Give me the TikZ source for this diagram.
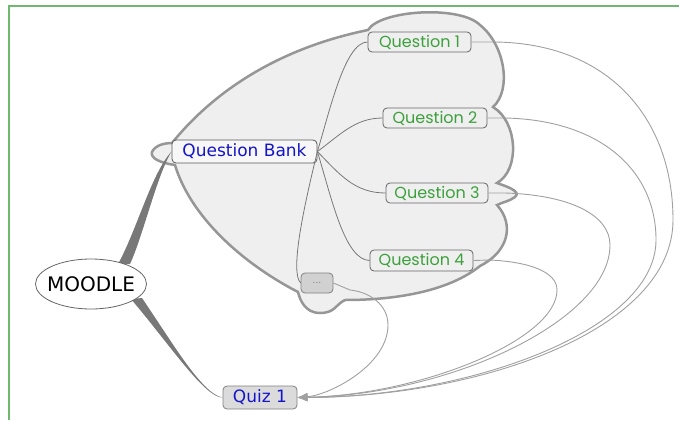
\documentclass[tikz,border=0pt]{standalone}
\usepackage{fontspec}
\setmainfont{DejaVu Sans}
\newfontfamily\qfont{Poppins}
\usetikzlibrary{arrows.meta,shapes.geometric}
\definecolor{frameg}{RGB}{112,184,112}
\definecolor{cloudfill}{RGB}{239,239,239}
\definecolor{cloudline}{RGB}{150,150,150}
\definecolor{topicblue}{RGB}{20,20,200}
\definecolor{qgreen}{RGB}{60,160,60}
\definecolor{linkgrey}{RGB}{120,120,120}
\definecolor{arrowgrey}{RGB}{160,160,160}
\definecolor{ribbon}{RGB}{120,120,120}
\tikzset{
  mainbox/.style={draw=black!65, fill=white!97!black, rounded corners=4pt, line width=0.8pt, inner sep=0pt, text=topicblue, font=\fontsize{17}{20}\selectfont},
  qbox/.style={draw=black!60, fill=cloudfill, rounded corners=4pt, line width=0.8pt, inner sep=0pt, minimum height=20pt, text=qgreen, font=\qfont\fontsize{16}{19}\selectfont},
  quizbox/.style={draw=black!50, fill=black!14, rounded corners=4pt, line width=0.8pt, inner sep=0pt, text=topicblue, font=\fontsize{17}{20}\selectfont},
  dotbox/.style={draw=black!50, fill=black!18, rounded corners=4pt, line width=0.8pt, inner sep=0pt, text=black!50, font=\fontsize{9}{10}\selectfont},
  rootnode/.style={draw=black!60, fill=white, ellipse, line width=0.8pt, inner xsep=-6pt, inner ysep=0pt, text=black, font=\fontsize{20}{24}\selectfont},
  link/.style={draw=linkgrey, line width=0.8pt},
  back/.style={draw=arrowgrey, line width=0.9pt, -{Latex[length=10pt,width=8pt]}},
}
\begin{document}
\begin{tikzpicture}[x=1pt,y=-1pt]
\useasboundingbox (0,0) rectangle (679,420);
% frame
\draw[frameg, line width=2pt] (8.5,420) -- (8.5,6.5) -- (679,6.5);
% cloud
\draw[draw=cloudline, fill=cloudfill, line width=2.5pt]
  (172,143) .. controls (215,90) and (280,48) .. (368,30)
  .. controls (380,10) and (460,5) .. (480,25)
  .. controls (505,45) and (512,90) .. (493,107)
  .. controls (518,122) and (520,170) .. (497,183)
  .. controls (505,186) and (522,191) .. (515,197)
  .. controls (510,201) and (503,202) .. (497,205)
  .. controls (515,225) and (508,252) .. (480,266)
  .. controls (450,290) and (400,300) .. (345,300)
  .. controls (335,305) and (335,313) .. (320,313)
  .. controls (305,313) and (300,300) .. (298,292)
  .. controls (240,262) and (190,215) .. (175,165)
  .. controls (160,163) and (150,158) .. (152,152)
  .. controls (155,145) and (165,143) .. cycle;
% nodes
\node[mainbox, minimum width=145pt, minimum height=23pt] (qb) at (244.5,151.5) {Question Bank};
\node[qbox, minimum width=103pt] (q1) at (419.5,42) {Question 1};
\node[qbox, minimum width=104pt] (q2) at (435,118) {Question 2};
\node[qbox, minimum width=102pt] (q3) at (437,193) {Question 3};
\node[qbox, minimum width=103pt, minimum height=21pt] (q4) at (421.5,260.5) {Question 4};
\node[dotbox, minimum width=32pt, minimum height=20pt] (dots) at (317,283) {...};
\node[quizbox, minimum width=74pt, minimum height=23pt] (quiz) at (260,397.5) {Quiz 1};
% links from question bank
\draw[link] (qb.east) .. controls (330,110) and (345,42) .. (q1.west);
\draw[link] (qb.east) .. controls (340,135) and (355,118) .. (q2.west);
\draw[link] (qb.east) .. controls (340,175) and (355,193) .. (q3.west);
\draw[link] (qb.east) .. controls (332,200) and (345,260) .. (q4.west);
\draw[link] (qb.east) .. controls (303,210) and (290,272) .. (dots.west);
% back arrows to quiz
\draw[back] (q1.east) -- (492,42) .. controls (610,42) and (673,120) .. (673,220) .. controls (673,330) and (480,397) .. (quiz.east);
\draw[back] (q2.east) -- (505,118) .. controls (600,120) and (656,170) .. (656,240) .. controls (656,330) and (470,397) .. (quiz.east);
\draw[back] (q3.east) -- (505,193) .. controls (570,195) and (610,215) .. (610,245) .. controls (610,320) and (450,395) .. (quiz.east);
\draw[back] (q4.east) -- (490,260) .. controls (530,262) and (557,272) .. (557,290) .. controls (557,340) and (420,395) .. (quiz.east);
\draw[back] (dots.east) -- (350,290) .. controls (370,292) and (388,305) .. (388,325) .. controls (388,365) and (330,395) .. (quiz.east);
% ribbons from MOODLE
\fill[ribbon] (118,264) .. controls (136,232) and (152,172) .. (qb.west)
  .. controls (157,175) and (143,236) .. (130,264) -- cycle;
\fill[ribbon] (131,299) .. controls (170,345) and (205,398) .. (quiz.west)
  .. controls (202,394) and (172,342) .. (142,298) -- cycle;
\node[rootnode, minimum width=111pt, minimum height=50pt] (moodle) at (91,284) {MOODLE};
\end{tikzpicture}
\end{document}
